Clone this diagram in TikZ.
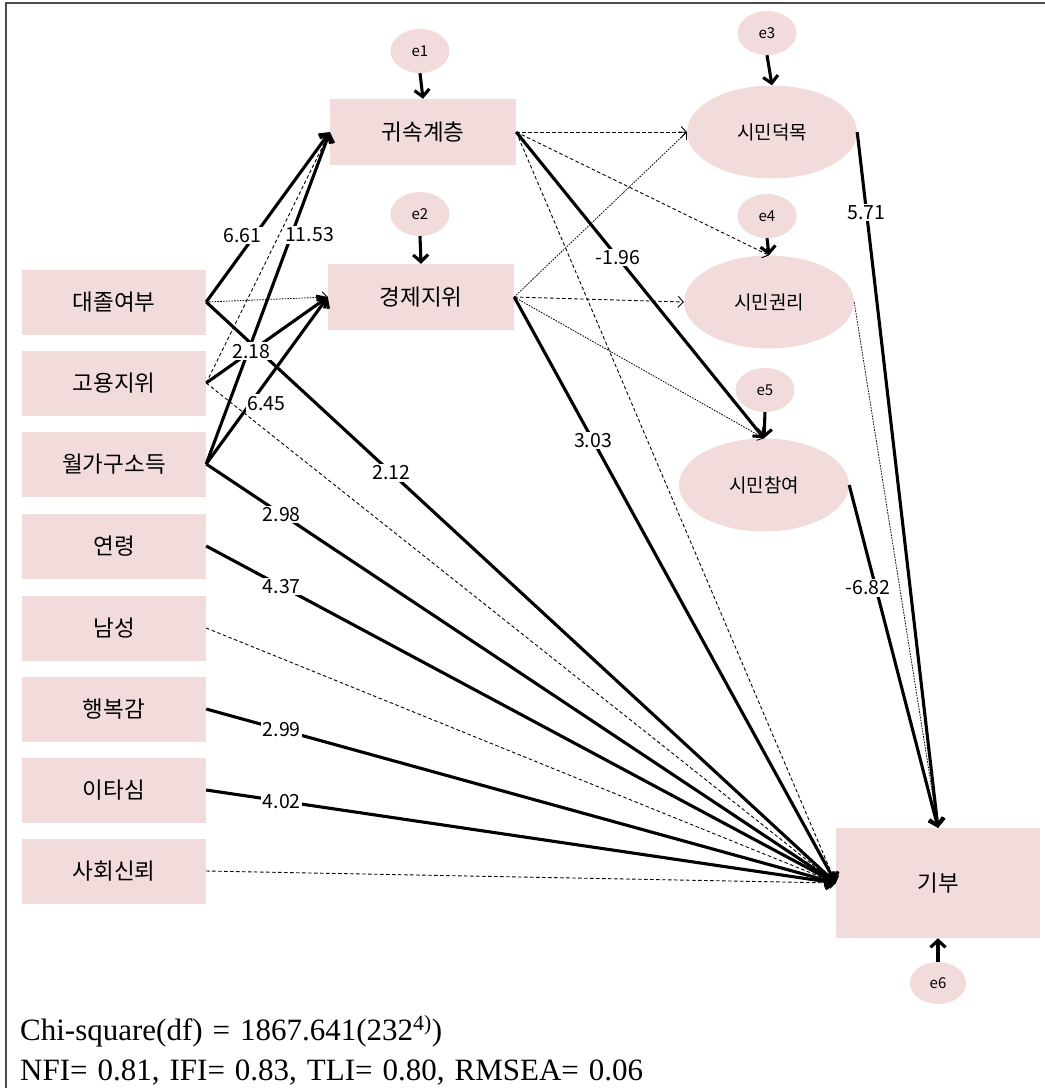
\documentclass[tikz,border=0pt]{standalone}
\usepackage{fontspec}
\setmainfont{Liberation Serif}
\newfontfamily\kr{Noto Sans CJK KR}
\usetikzlibrary{arrows.meta,shapes.geometric}
\definecolor{boxpink}{RGB}{242,220,219}
\newcommand\widegap{\spaceskip 10pt\relax}
\tikzset{
  var/.style={fill=boxpink, minimum width=184pt, minimum height=65pt, inner sep=0pt, font=\kr\fontsize{22.5}{26}\selectfont},
  lat/.style={ellipse, fill=boxpink, minimum width=170pt, minimum height=93pt, inner sep=0pt, font=\kr\fontsize{19}{22}\selectfont},
  err/.style={ellipse, fill=boxpink, minimum width=59pt, minimum height=44pt, inner sep=0pt, font=\kr\fontsize{15}{18}\selectfont},
  sig/.style={line width=3.1pt, -{Straight Barb[length=7pt,width=15pt]}},
  dsh/.style={line width=0.9pt, dash pattern=on 3.5pt off 2.5pt, -{Straight Barb[length=5pt,width=11pt,line width=0.9pt]}},
  dts/.style={line width=0.8pt, dash pattern=on 1.6pt off 1.2pt, -{Straight Barb[length=5pt,width=11pt,line width=0.8pt]}},
  lbl/.style={fill=white, inner sep=1.5pt, font=\kr\fontsize{19.5}{21}\selectfont},
  note/.style={anchor=base west, inner sep=0pt, font=\fontsize{31}{34}\selectfont},
  frame/.style={line width=1.4pt, gray!60!black},
}

\begin{document}
\begin{tikzpicture}[x=1pt,y=-1pt]
\useasboundingbox (0,0) rectangle (1045,1088);
\draw[frame] (6,3) rectangle (1070,1110);

\node[var] (univ) at (114,302) {대졸여부};
\node[var] (job) at (114,383) {고용지위};
\node[var] (income) at (114,464) {월가구소득};
\node[var] (age) at (114,546) {연령};
\node[var] (male) at (114,628) {남성};
\node[var] (happy) at (114,709) {행복감};
\node[var] (altru) at (114,790) {이타심};
\node[var] (trust) at (114,871) {사회신뢰};

\node[var, minimum width=186pt, minimum height=66pt] (ascr) at (423,132) {귀속계층};
\node[var, minimum width=186pt, minimum height=66pt] (econ) at (421,297) {경제지위};

\node[lat] (virtue) at (772,132) {시민덕목};
\node[lat] (rights) at (769,302) {시민권리};
\node[lat] (partic) at (764,485) {시민참여};

\node[var, minimum width=204pt, minimum height=110pt] (donate) at (938,883) {기부};

\node[err] (e1) at (420,51) {e1};
\node[err] (e2) at (420,214) {e2};
\node[err] (e3) at (767,33) {e3};
\node[err] (e4) at (767,216) {e4};
\node[err] (e5) at (765,390) {e5};
\node[err, minimum width=56pt, minimum height=42pt] (e6) at (938,983) {e6};

\draw[sig] (e1.south) -- (ascr.north);
\draw[sig] (e2.south) -- (econ.north);
\draw[sig] (e3.south) -- (virtue.north);
\draw[sig] (e4.south) -- (rights.north);
\draw[sig] (e5.south) -- (partic.north);
\draw[sig] (e6.north) -- (donate.south);

\draw[dsh] (job.east) -- (ascr.west);
\draw[dts] (univ.east) -- (econ.west);
\draw[dsh] (job.east) -- (donate.west);
\draw[dsh] (male.east) -- (donate.west);
\draw[dsh] (trust.east) -- (donate.west);
\draw[dsh] (ascr.east) -- (virtue.west);
\draw[dsh] (ascr.east) -- (rights.north);
\draw[dsh] (ascr.east) -- (donate.west);
\draw[dts] (econ.east) -- (virtue.west);
\draw[dsh] (econ.east) -- (rights.west);
\draw[dts] (econ.east) -- (partic.north);
\draw[dts] (rights.east) -- (donate.north);

\draw[sig] (univ.east) -- node[lbl, pos=0.39, xshift=-12pt] {6.61} (ascr.west);
\draw[sig] (income.east) -- node[lbl, pos=0.69, xshift=18pt] {11.53} (ascr.west);
\draw[sig] (income.east) -- node[lbl, pos=0.365, xshift=16pt] {6.45} (econ.west);
\draw[sig] (univ.east) -- node[lbl, pos=0.294] {2.12} (donate.west);
\draw[sig] (job.east) -- node[lbl, pos=0.37] {2.18} (econ.west);
\draw[sig] (income.east) -- node[lbl, pos=0.12] {2.98} (donate.west);
\draw[sig] (age.east) -- node[lbl, pos=0.12] {4.37} (donate.west);
\draw[sig] (happy.east) -- node[lbl, pos=0.12] {2.99} (donate.west);
\draw[sig] (altru.east) -- node[lbl, pos=0.12] {4.02} (donate.west);
\draw[sig] (ascr.east) -- node[lbl, pos=0.41] {-1.96} (partic.north);
\draw[sig] (econ.east) -- node[lbl, pos=0.245] {3.03} (donate.west);
\draw[sig] (virtue.east) -- node[lbl, pos=0.116] {5.71} (donate.north);
\draw[sig] (partic.east) -- node[lbl, pos=0.3, xshift=-8pt] {-6.82} (donate.north);

\node[note] (chi) at (20,1040) {\widegap Chi-square(df) = 1867.641(232\textsuperscript{4)})};
\node[note] (fit) at (20,1080) {\widegap NFI= 0.81, IFI= 0.83, TLI= 0.80, RMSEA= 0.06};
\end{tikzpicture}
\end{document}
